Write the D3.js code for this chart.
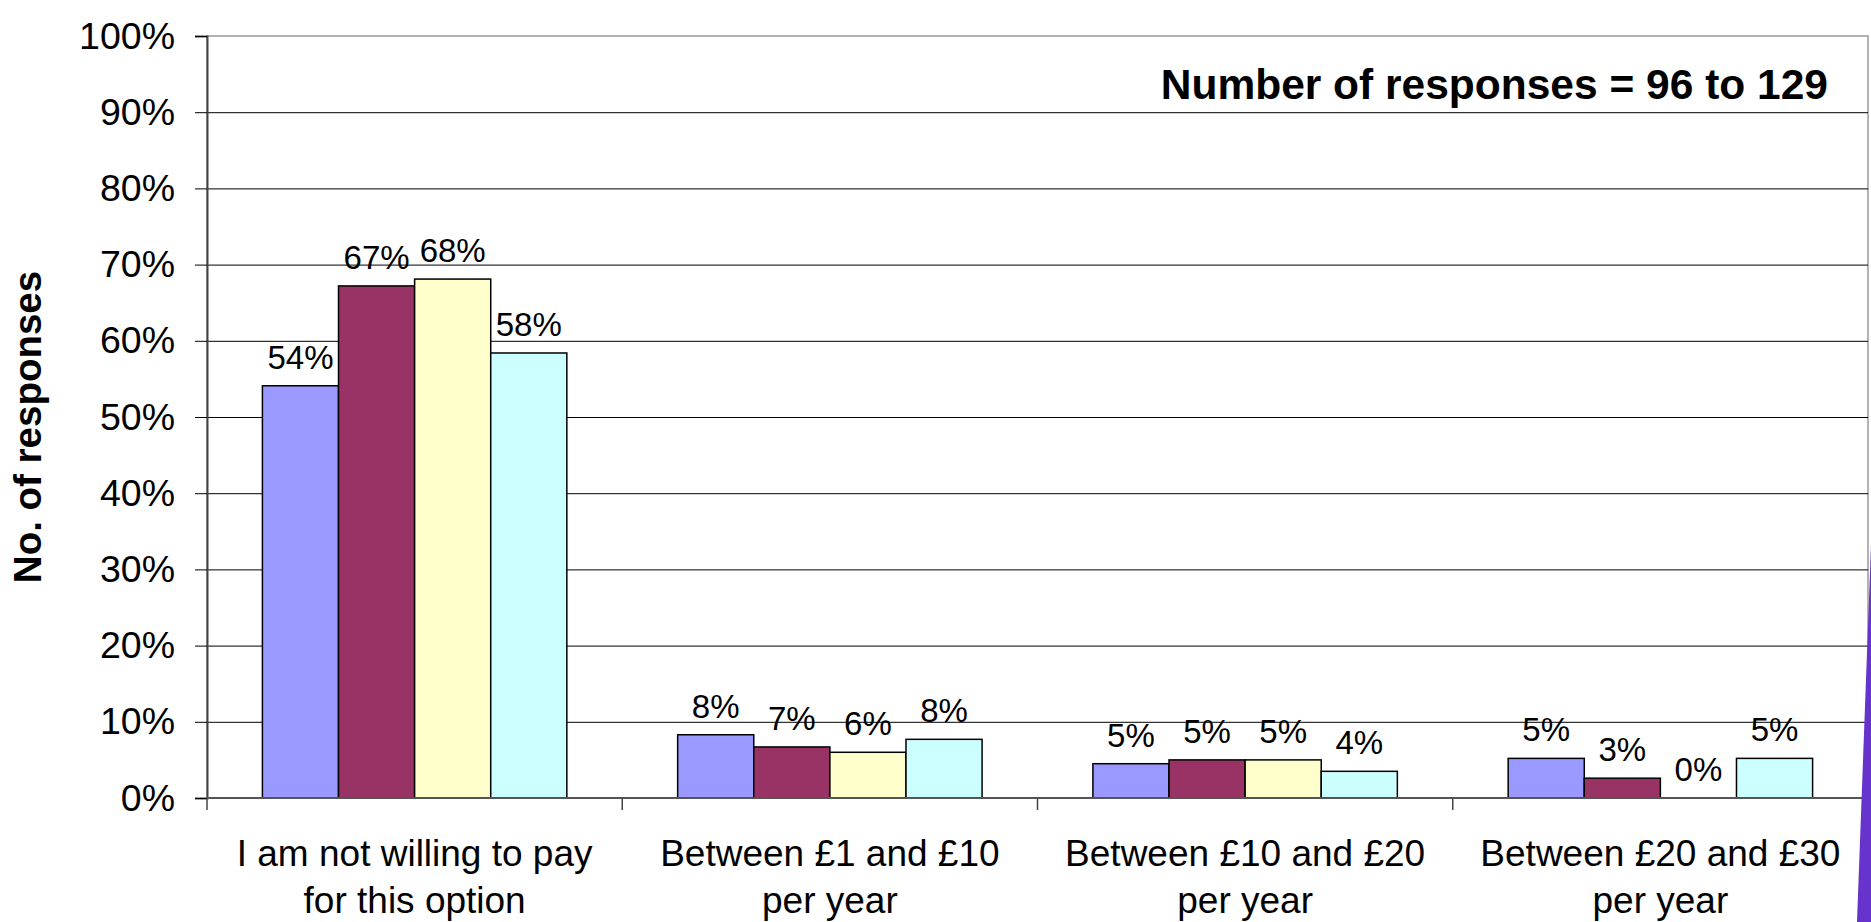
<!DOCTYPE html>
<html>
<head>
<meta charset="utf-8">
<script src="https://cdn.jsdelivr.net/npm/d3@7"></script>
<style>
  body { margin: 0; background: #fff; }
  text { font-family: "Liberation Sans", Arial, sans-serif; fill: #000; }
</style>
</head>
<body>
<div id="chart"></div>
<script>
// categories (two lines each)
var categories = [
    "I am not willing to pay\nfor this option",
    "Between £1 and £10\nper year",
    "Between £10 and £20\nper year",
    "Between £20 and £30\nper year"
];
var seriesNames = ["Series 1", "Series 2", "Series 3", "Series 4"];
var seriesColors = ["#9999FF", "#993366", "#FFFFCC", "#CCFFFF"];

// values per series, in category order (fractions)
var series1 = [0.541, 0.083, 0.045, 0.052];
var series2 = [0.672, 0.067, 0.050, 0.026];
var series3 = [0.681, 0.060, 0.050, 0.000];
var series4 = [0.584, 0.077, 0.035, 0.052];

var yTicks = [0, 0.1, 0.2, 0.3, 0.4, 0.5, 0.6, 0.7, 0.8, 0.9, 1.0];
var gridTicks = [0.1, 0.2, 0.3, 0.4, 0.5, 0.6, 0.7, 0.8, 0.9];

var width = 1871, height = 922,
    margin = {left: 207, right: 3, top: 36, bottom: 124},
    plotW = width - margin.left - margin.right,
    plotH = height - margin.top - margin.bottom;

var svg = d3.select('#chart').append('svg')
    .attr('width', width)
    .attr('height', height);

var allSeries = [series1, series2, series3, series4];
var data = categories.map(function (c, i) {
    return {
        category: c,
        values: seriesNames.map(function (s, j) {
            return {series: s, value: allSeries[j][i]};
        })
    };
});

var x0 = d3.scaleBand().domain(categories).range([0, plotW]).padding(0);
var x1 = d3.scaleBand().domain(seriesNames).range([0, x0.bandwidth()])
    .paddingInner(0).paddingOuter(0.728);
var y = d3.scaleLinear().domain([0, 1]).range([plotH, 0]);
var color = d3.scaleOrdinal(seriesNames, seriesColors);

var g = svg.append('g')
    .attr('transform', 'translate(' + margin.left + ',' + margin.top + ')');

// plot border
g.append('rect')
    .attr('width', plotW).attr('height', plotH)
    .attr('fill', 'none').attr('stroke', '#999').attr('stroke-width', 1.5);

// gridlines
var grid = g.append('g')
    .call(d3.axisLeft(y).tickValues(gridTicks).tickSize(-plotW).tickFormat(''));
grid.select('.domain').remove();
grid.selectAll('line').attr('stroke', '#000').attr('stroke-width', 1);

// bars
var groups = g.selectAll('.grp')
    .data(data)
    .enter().append('g')
    .attr('class', 'grp')
    .attr('transform', function (d) { return 'translate(' + x0(d.category) + ',0)'; });

groups.selectAll('rect')
    .data(function (d) { return d.values.filter(function (v) { return v.value > 0; }); })
    .enter().append('rect')
    .attr('x', function (d) { return x1(d.series); })
    .attr('y', function (d) { return y(d.value); })
    .attr('width', x1.bandwidth())
    .attr('height', function (d) { return plotH - y(d.value); })
    .attr('fill', function (d) { return color(d.series); })
    .attr('stroke', '#000')
    .attr('stroke-width', 1.5);

// value labels
groups.selectAll('.lbl')
    .data(function (d) { return d.values; })
    .enter().append('text')
    .attr('class', 'lbl')
    .attr('x', function (d) { return x1(d.series) + x1.bandwidth() / 2; })
    .attr('y', function (d) { return y(d.value) - 17; })
    .attr('text-anchor', 'middle')
    .style('font-size', '33px')
    .text(function (d) { return d3.format('.0%')(d.value); });

// y axis
var yAxis = g.append('g')
    .call(d3.axisLeft(y).tickValues(yTicks).tickSize(12).tickPadding(20)
        .tickFormat(d3.format('.0%')));
yAxis.select('.domain').attr('stroke', '#444').attr('stroke-width', 2);
yAxis.selectAll('line').attr('stroke', '#000');
yAxis.selectAll('text').style('font-size', '37.5px');

// x axis line + ticks at category boundaries
g.append('line')
    .attr('x1', 0).attr('x2', plotW)
    .attr('y1', plotH).attr('y2', plotH)
    .attr('stroke', '#555').attr('stroke-width', 2);
g.selectAll('.xtick')
    .data(categories)
    .enter().append('line')
    .attr('class', 'xtick')
    .attr('x1', function (d) { return x0(d); })
    .attr('x2', function (d) { return x0(d); })
    .attr('y1', plotH).attr('y2', plotH + 12)
    .attr('stroke', '#444').attr('stroke-width', 1.5);

// category labels
var catText = g.selectAll('.cat')
    .data(categories)
    .enter().append('text')
    .attr('class', 'cat')
    .attr('text-anchor', 'middle')
    .style('font-size', '37px')
    .attr('transform', function (d) {
        return 'translate(' + (x0(d) + x0.bandwidth() / 2) + ',' + (plotH + 68) + ')';
    });
catText.selectAll('tspan')
    .data(function (d) { return d.split('\n'); })
    .enter().append('tspan')
    .attr('x', 0)
    .attr('dy', function (d, i) { return i === 0 ? 0 : 47; })
    .text(function (d) { return d; });

// y axis title
svg.append('text')
    .attr('transform', 'translate(41,' + (margin.top + plotH / 2 + 10) + ') rotate(-90)')
    .attr('text-anchor', 'middle')
    .style('font-size', '38.5px')
    .style('font-weight', 'bold')
    .text('No. of responses');

// note
svg.append('text')
    .attr('x', 1828).attr('y', 99)
    .attr('text-anchor', 'end')
    .style('font-size', '42.5px')
    .style('font-weight', 'bold')
    .text('Number of responses = 96 to 129');

// slide decoration at right edge
svg.append('path')
    .attr('d', 'M1871,545 L1857,922 L1871,922 Z')
    .attr('fill', '#6633CC');
</script>
</body>
</html>
